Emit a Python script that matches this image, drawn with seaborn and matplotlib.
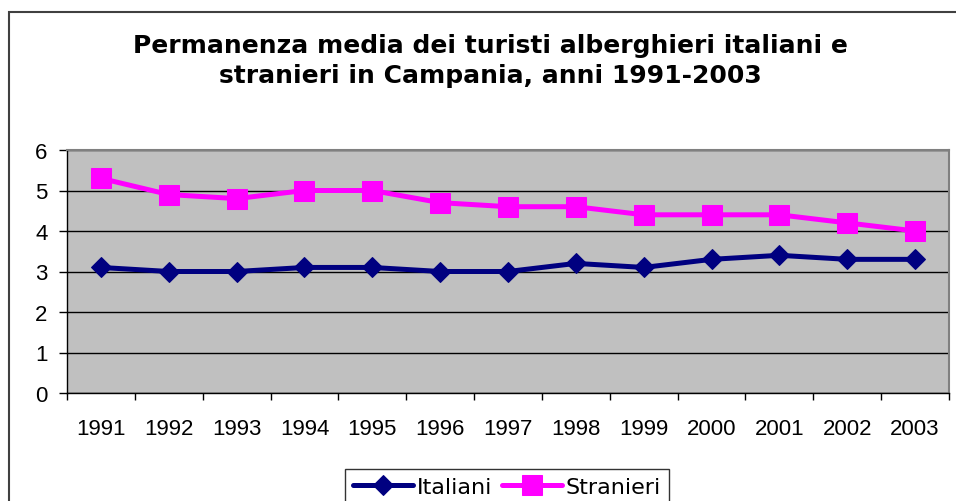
import numpy as np
import pandas as pd
import matplotlib
matplotlib.use("Agg")
import matplotlib.pyplot as plt
import seaborn as sns
from matplotlib.patches import Rectangle

anni = [1991, 1992, 1993, 1994, 1995, 1996, 1997, 1998, 1999, 2000, 2001, 2002, 2003]
italiani = [3.1, 3.0, 3.0, 3.1, 3.1, 3.0, 3.0, 3.2, 3.1, 3.3, 3.4, 3.3, 3.3]
stranieri = [5.3, 4.9, 4.8, 5.0, 5.0, 4.7, 4.6, 4.6, 4.4, 4.4, 4.4, 4.2, 4.0]
titolo = "Permanenza media dei turisti alberghieri italiani e\nstranieri in Campania, anni 1991-2003"

sns.set_style("white")
plt.rcParams['font.family'] = ['Liberation Sans', 'DejaVu Sans']
plt.rcParams['text.color'] = 'black'
plt.rcParams['xtick.color'] = 'black'
plt.rcParams['ytick.color'] = 'black'

fig = plt.figure(figsize=(9.56, 5.02), dpi=100)
ax = fig.add_axes([67/956, 1 - 394/502, 882/956, 243/502])
ax.set_facecolor("#c0c0c0")

df = pd.DataFrame({"anno": anni, "Italiani": italiani, "Stranieri": stranieri})
sns.lineplot(data=df, x="anno", y="Italiani", ax=ax, color="#000080", lw=3.6,
             marker="D", markersize=10.5, markeredgecolor="#000080", label="Italiani")
sns.lineplot(data=df, x="anno", y="Stranieri", ax=ax, color="#ff00ff", lw=3.6,
             marker="s", markersize=14, markeredgecolor="#ff00ff", label="Stranieri")

ax.set_xlim(anni[0] - 0.5, anni[-1] + 0.5)
ax.set_ylim(0, 6)
ax.set_xticks(anni)
ax.set_xticklabels([str(a) for a in anni])
ax.set_xticks(np.arange(anni[0] - 0.5, anni[-1] + 1, 1), minor=True)
ax.set_yticks(range(0, 7))
ax.tick_params(axis="x", which="major", length=0, pad=18, labelsize=16)
ax.tick_params(axis="x", which="minor", length=5, width=1, color="black", direction="out", bottom=True)
ax.tick_params(axis="y", length=6, width=1, color="black", direction="out", left=True, labelsize=16, pad=8)
ax.yaxis.grid(True, color="black", lw=1)
ax.set_axisbelow(True)
ax.set_xlabel("")
ax.set_ylabel("")

for s in ["top", "right"]:
    ax.spines[s].set_color("#808080")
    ax.spines[s].set_linewidth(1.5)
for s in ["left", "bottom"]:
    ax.spines[s].set_color("black")
    ax.spines[s].set_linewidth(1)

fig.text(490/956, 1 - 61/502, titolo, ha="center", va="center", fontsize=18,
         fontweight="bold", family="DejaVu Sans", linespacing=1.3, color="black")

leg = ax.legend(loc="upper center", bbox_to_anchor=(507/956, 1 - 470/502),
                bbox_transform=fig.transFigure, ncol=2, frameon=True, fancybox=False,
                prop={"family": "DejaVu Sans", "size": 16}, handlelength=2.7,
                columnspacing=0.4, handletextpad=0.2, borderpad=0.35, borderaxespad=0)
leg.get_frame().set_edgecolor("black")
leg.get_frame().set_linewidth(1)

fig.patches.append(Rectangle((9/956, -0.2), 1.2, 1.2 - 13/502, transform=fig.transFigure,
                             fill=False, edgecolor="#404040", lw=1.5, clip_on=False))

fig.savefig("out.png", dpi=100)
